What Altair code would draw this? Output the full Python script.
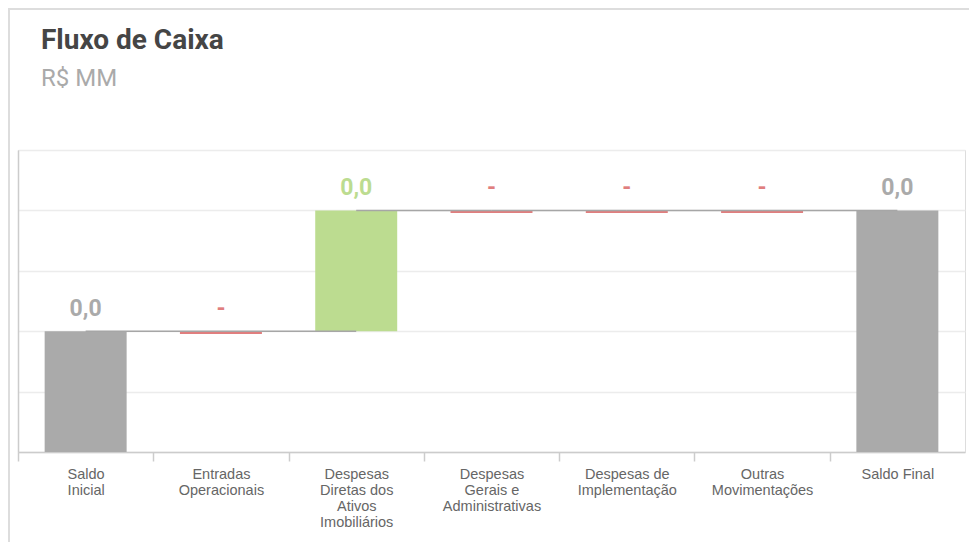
import json
import altair as alt
import pandas as pd

# ---- data ----
categories = [
    "Saldo Inicial",
    "Entradas Operacionais",
    "Despesas Diretas dos Ativos Imobiliários",
    "Despesas Gerais e Administrativas",
    "Despesas de Implementação",
    "Outras Movimentações",
    "Saldo Final",
]
label_lines = [
    ["Saldo", "Inicial"],
    ["Entradas", "Operacionais"],
    ["Despesas", "Diretas dos", "Ativos", "Imobiliários"],
    ["Despesas", "Gerais e", "Administrativas"],
    ["Despesas de", "Implementação"],
    ["Outras", "Movimentações"],
    ["Saldo Final"],
]
kinds = ["total", "delta", "delta", "delta", "delta", "delta", "total"]
values = [2.0, 0.0, 2.0, 0.0, 0.0, 0.0, 4.0]
value_labels = ["0,0", "-", "0,0", "-", "-", "-", "0,0"]

# ---- styles ----
GRAY = "#aaaaaa"
GREEN = "#bcdc90"
RED = "#e07e7e"
MARKER = 0.045  # thickness of the zero-change marker, in axis units

rows = []
running = 0.0
for cat, kind, val, lab in zip(categories, kinds, values, value_labels):
    if kind == "total":
        start, end, col = 0.0, val, GRAY
        running = val
    elif val > 0:
        start, end, col = running, running + val, GREEN
        running += val
    elif val < 0:
        start, end, col = running, running + val, RED
        running += val
    else:
        start, end, col = running, running - MARKER, RED
    rows.append({"cat": cat, "start": start, "end": end, "color": col,
                 "top": max(start, end, running), "label": lab, "level": running})
df = pd.DataFrame(rows)

conn = pd.DataFrame({
    "cat": categories[:-1],
    "next": categories[1:],
    "level": [r["level"] for r in rows[:-1]],
})

W, H = 947, 302
STEP = W / len(categories)
label_map = json.dumps(dict(zip(categories, label_lines)), ensure_ascii=False)

xscale = alt.Scale(domain=categories, paddingInner=0.394, paddingOuter=0.197)
yscale = alt.Scale(domain=[0, 5], nice=False)

xaxis = alt.Axis(
    title=None, labelAngle=0, labelExpr=f"{label_map}[datum.value]",
    labelFont="Liberation Sans", labelFontSize=14.5, labelColor="#666666",
    labelLineHeight=16, labelLimit=200, labelPadding=6,
    tickOffset=-STEP / 2, labelOffset=STEP / 2,
    tickSize=9, tickColor="#cccccc", tickWidth=1.5,
    domainColor="#cccccc", domainWidth=1.5, grid=False,
)
yaxis = alt.Axis(
    title=None, labels=False, ticks=False, values=[0, 1, 2, 3, 4, 5],
    domainColor="#cccccc", domainWidth=1.5,
    grid=True, gridColor="#ececec", gridWidth=1.5,
)

base = alt.Chart(df)

bars = base.mark_bar().encode(
    x=alt.X("cat:N", scale=xscale, axis=xaxis, sort=categories),
    y=alt.Y("start:Q", scale=yscale, axis=yaxis),
    y2="end:Q",
    color=alt.Color("color:N", scale=None),
)

connectors = alt.Chart(conn).mark_rule(color="#a6a6a6", strokeWidth=1.5).encode(
    x=alt.X("cat:N", scale=xscale, sort=categories, bandPosition=0.5),
    x2=alt.X2("next:N", bandPosition=0.5),
    y=alt.Y("level:Q", scale=yscale),
)

texts = base.mark_text(font="Roboto", fontSize=23, fontWeight="bold",
                       baseline="alphabetic", dy=-15).encode(
    x=alt.X("cat:N", scale=xscale, sort=categories),
    y=alt.Y("top:Q", scale=yscale),
    text="label:N",
    color=alt.Color("color:N", scale=None),
)

frame_left = alt.Chart(df).mark_rule(color="#dddddd", strokeWidth=2).encode(
    x=alt.value(-9), y=alt.value(-142), y2=alt.value(H + 100))
frame_top = alt.Chart(df).mark_rule(color="#dddddd", strokeWidth=2).encode(
    x=alt.value(-10), x2=alt.value(W + 10), y=alt.value(-141))

chart = alt.layer(bars, connectors, texts, frame_left, frame_top).properties(
    width=W, height=H,
    autosize=alt.AutoSizeParams(type="none"),
    padding={"left": 10, "top": 142, "right": 4, "bottom": 90},
    title=alt.Title(
        "Fluxo de Caixa", subtitle="R$ MM", anchor="start", frame="group",
        dx=23, offset=-84, font="Roboto", fontSize=28, fontWeight="bold",
        color="#454545", subtitleFont="Roboto", subtitleFontSize=24,
        subtitleColor="#aaaaaa", subtitlePadding=12,
    ),
).configure_view(stroke=None).configure(background="white")

chart.save("out.html", embed_options={"renderer": "svg", "actions": False})
